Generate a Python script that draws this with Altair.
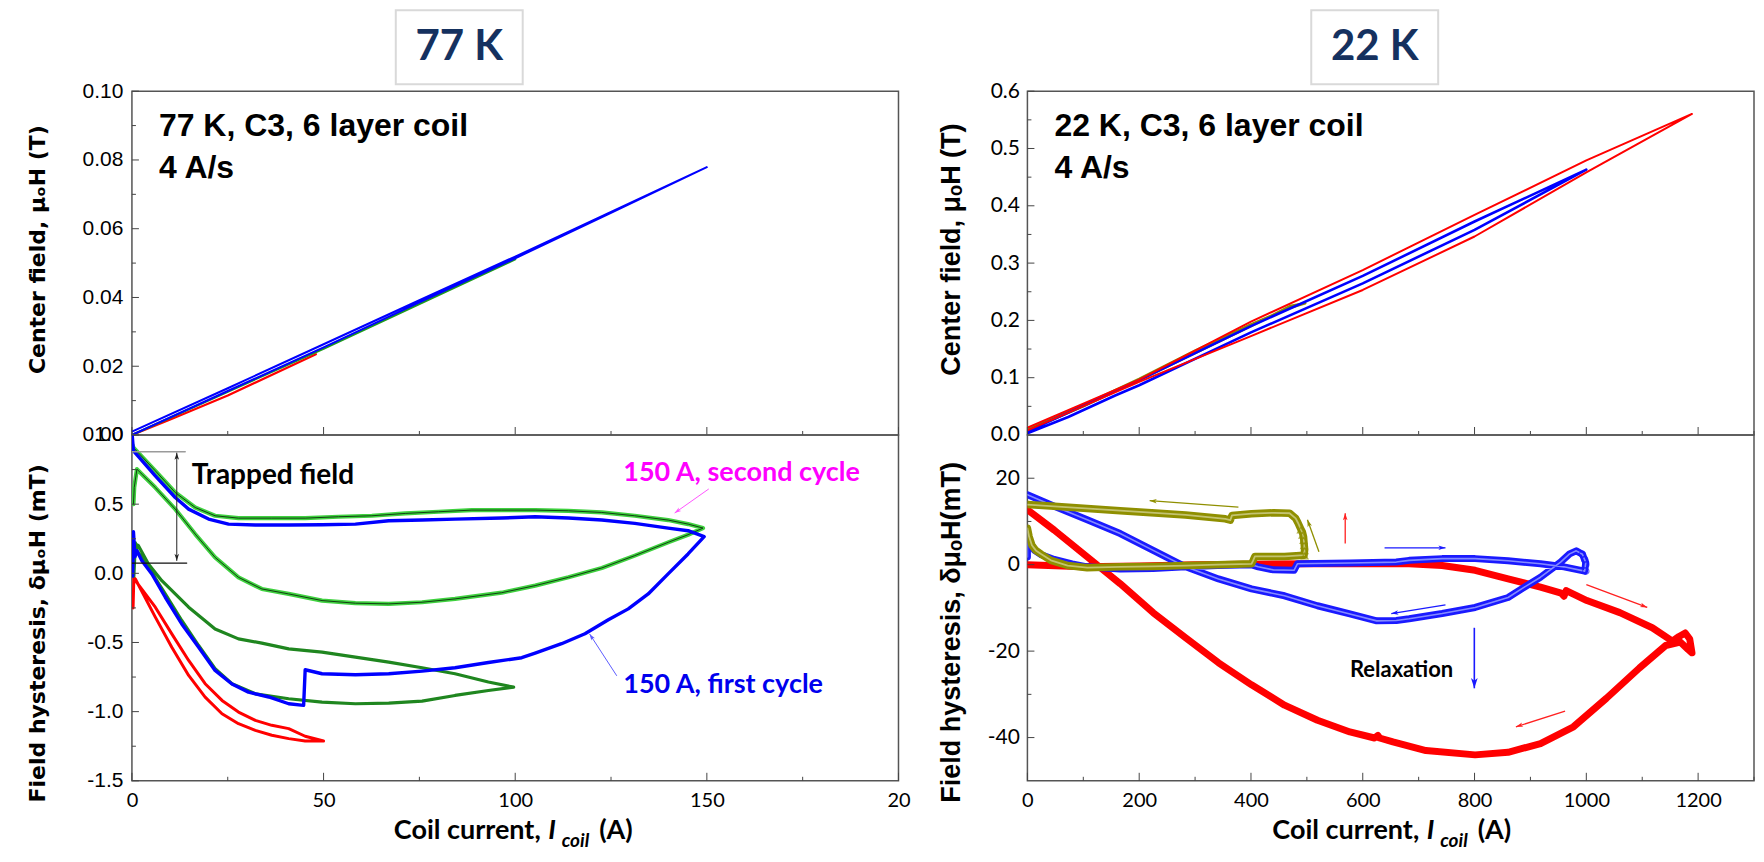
import math
import altair as alt
import pandas as pd

# ======================= DATA =======================
# --- 77 K : centre field (T) vs coil current (A)
C77_RED_I = [0, 10, 25, 48]
C77_RED_B = [0.0, 0.0045, 0.0115, 0.0235]
C77_GREEN_I = [0, 25, 50, 75, 100]
C77_GREEN_B = [0.0, 0.0126, 0.0251, 0.0381, 0.0511]
C77_BLUE_I = [0, 25, 50, 75, 100, 125, 150, 125, 100, 75, 50, 25, 0]
C77_BLUE_B = [0.0, 0.0128, 0.0255, 0.0386, 0.0514, 0.0646, 0.0779, 0.0649, 0.0519, 0.0392, 0.0264, 0.0136, 0.0010]

# --- 77 K : field hysteresis (mT)
H77_RED_I = [0.3, 0.5, 0.9, 6.1, 10.4, 14.8, 19.1, 23.5, 27.8, 32.2, 36.5, 40.9, 45.2, 50.0,
             45.2, 40.9, 36.5, 32.2, 27.8, 23.5, 19.1, 14.8, 10.4, 6.1, 0.9]
H77_RED_V = [-0.25, -0.03, -0.041, -0.317, -0.534, -0.738, -0.895, -1.015, -1.087, -1.135, -1.171, -1.195, -1.212, -1.212,
             -1.178, -1.123, -1.099, -1.063, -1.003, -0.919, -0.798, -0.630, -0.438, -0.245, -0.053]
H77_DGREEN_I = [0.5, 0.9, 1.3, 4.3, 8.7, 13.0, 17.4, 21.7, 26.1, 32.2, 40.9, 49.6, 58.3, 67.0, 75.7, 84.3, 93.0, 99.6,
                93.0, 84.3, 75.7, 67.0, 58.3, 49.6, 40.9, 33.9, 27.8, 21.7, 14.8, 7.8, 4.3, 1.7, 0.9]
H77_DGREEN_V = [-0.02, 0.22, 0.164, 0.043, -0.149, -0.341, -0.522, -0.690, -0.798, -0.871, -0.907, -0.931, -0.943, -0.938,
                -0.924, -0.883, -0.847, -0.823,
                -0.786, -0.726, -0.683, -0.642, -0.606, -0.570, -0.546, -0.505, -0.474, -0.402, -0.245, -0.053, 0.067, 0.200, 0.212]
H77_BLUE_I = [0.2, 0.4, 0.8, 1.3, 2.6, 5.2, 8.7, 13.0, 17.4, 21.7, 26.1, 30.4, 35.7, 40.9, 44.8, 45.2, 49.6, 58.3, 67.0,
              75.7, 84.3, 93.0, 101.7, 105.2, 112.1, 118.2, 124.3, 129.5, 134.7, 139.9, 145.1, 149.3,
              145.1, 139.9, 131.2, 122.6, 113.9, 105.2, 96.5, 84.3, 75.7, 67.0, 58.3, 49.6, 40.9, 32.2, 25.2, 20.0,
              14.8, 11.3, 6.1, 0.4, 0.1]
H77_BLUE_V = [-0.02, 0.30, 0.12, 0.164, 0.091, -0.005, -0.173, -0.366, -0.534, -0.702, -0.800, -0.859, -0.894, -0.943,
              -0.955, -0.697, -0.726, -0.733, -0.726, -0.707, -0.683, -0.645, -0.610, -0.577, -0.509, -0.437, -0.336,
              -0.257, -0.149, -0.004, 0.140, 0.265,
              0.308, 0.327, 0.361, 0.385, 0.400, 0.409, 0.400, 0.392, 0.385, 0.380, 0.356, 0.351, 0.349, 0.349, 0.356,
              0.392, 0.464, 0.548, 0.705, 0.885, 0.990]
H77_LGREEN_I = [0.4, 0.6, 1.3, 2.6, 6.1, 11.3, 16.5, 21.7, 27.8, 33.9, 40.9, 49.6, 58.3, 67.0, 75.7, 84.3, 96.5, 105.2,
                113.9, 122.6, 131.2, 139.9, 145.1, 149.0,
                145.1, 139.9, 131.2, 122.6, 113.9, 105.2, 96.5, 88.7, 80.0, 71.3, 62.6, 53.9, 45.2, 36.5, 27.8, 21.7,
                16.5, 11.3, 6.1, 0.4, 0.1]
H77_LGREEN_V = [0.50, 0.62, 0.753, 0.717, 0.620, 0.464, 0.284, 0.115, -0.029, -0.113, -0.149, -0.197, -0.216, -0.221,
                -0.209, -0.185, -0.140, -0.089, -0.029, 0.039, 0.128, 0.224, 0.279, 0.327,
                0.356, 0.385, 0.416, 0.440, 0.452, 0.457, 0.457, 0.457, 0.445, 0.433, 0.416, 0.409, 0.399, 0.399,
                0.399, 0.416, 0.476, 0.584, 0.741, 0.909, 0.930]

# --- 22 K : centre field (T)
C22_RED_I = [0, 200, 400, 600, 800, 1000, 1189, 1000, 800, 600, 400, 200, 0]
C22_RED_B = [0.0129, 0.0965, 0.1978, 0.2878, 0.3842, 0.4792, 0.5603, 0.4582, 0.3464, 0.2531, 0.1726, 0.0927, 0.0082]
C22_BLUE_I = [0, 200, 400, 600, 800, 1000, 800, 600, 400, 200, 157, 73, 0]
C22_BLUE_B = [0.0064, 0.0957, 0.1901, 0.2776, 0.3726, 0.4630, 0.3580, 0.2647, 0.1790, 0.0869, 0.0690, 0.0314, 0.0030]
C22_OLIVE_I = [0, 100, 200, 300, 400, 470, 497, 470, 400, 300, 200, 100, 0]
C22_OLIVE_B = [0.010, 0.052, 0.098, 0.147, 0.193, 0.222, 0.230, 0.225, 0.190, 0.143, 0.096, 0.050, 0.008]

# --- 22 K : field hysteresis (mT)
H22_RED_I = [0, 100, 200, 300, 400, 500, 625, 683, 742, 801, 860, 918, 955, 960, 964, 1001, 1060, 1118, 1154,
             1166, 1177, 1185, 1189, 1182, 1168, 1142, 1095, 1036, 977, 918, 860, 801, 713, 654, 630, 627, 621,
             577, 519, 460, 401, 342, 283, 225, 166, 107, 48, 0]
H22_RED_V = [0.0, -0.5, -0.3, 0.0, 0.1, 0.2, 0.2, 0.2, -0.2, -1.3, -3.3, -5.2, -6.6, -7.3, -6.0, -8.3, -11.1, -14.6,
             -17.7, -16.6, -15.8, -17.2, -20.4, -19.6, -17.9, -18.7, -23.9, -30.9, -37.5, -41.4, -43.4, -44.0,
             -43.0, -41.0, -40.1, -39.5, -40.1, -38.7, -36.0, -32.5, -27.8, -22.7, -16.9, -11.1, -4.4, 1.8, 8.0, 12.7]
H22_BLUE_I = [0, 0, 4, 12, 25, 48, 80, 107, 166, 225, 283, 340, 400, 413, 440, 477, 483, 577, 660, 683, 742, 801,
              860, 918, 960, 997, 999, 993, 982, 970, 954, 918, 889, 860, 801, 742, 683, 660, 625, 577, 519, 460,
              401, 342, 283, 225, 166, 107, 48, 0]
H22_BLUE_V = [1.8, 7.5, 5.5, 3.4, 2.3, 1.2, 0.2, -0.5, -1.0, -0.9, -0.5, -0.2, 0.0, -0.5, -1.2, -1.3, 0.2, 0.4, 0.6,
              1.0, 1.4, 1.4, 0.9, 0.2, -0.5, -1.5, 0.5, 2.4, 3.2, 2.5, 0.6, -2.9, -5.2, -7.6, -9.9, -11.3, -12.5,
              -12.9, -13.0, -11.4, -9.5, -7.2, -5.6, -3.3, -0.5, 3.3, 7.2, 10.4, 13.5, 16.2]
H22_OLIVE_I = [0, 3, 8, 15, 25, 42, 72, 107, 166, 225, 283, 340, 401, 404, 407, 460, 495, 496, 495, 494, 492, 489,
               484, 480, 469, 440, 401, 366, 363, 354, 283, 166, 48, 0]
H22_OLIVE_V = [8.4, 6.5, 4.5, 3.3, 2.4, 1.0, -0.2, -0.7, -0.5, -0.4, -0.2, 0.0, 0.2, 1.0, 1.9, 1.9, 2.2, 3.5, 5.0,
               6.5, 7.5, 8.3, 9.7, 10.7, 11.9, 12.0, 11.8, 11.4, 10.3, 10.6, 11.5, 12.5, 13.5, 13.9]
H22_OLIVE_TRI_I = [496, 496, 495, 494, 492, 489]
H22_OLIVE_TRI_V = [2.0, 3.2, 4.4, 5.6, 6.8, 8.0]
H22_BLUE_TIP_I = [999, 999, 997, 993]
H22_BLUE_TIP_V = [-1.5, 0.0, 1.2, 2.4]

# --- axis ticks
X77_MAJOR = [0, 50, 100, 150, 200]
X77_MINOR = [25, 75, 125, 175]
Y77T_MAJOR = [0.0, 0.02, 0.04, 0.06, 0.08, 0.10]
Y77T_MINOR = [0.01, 0.03, 0.05, 0.07, 0.09]
Y77B_MAJOR = [-1.5, -1.0, -0.5, 0.0, 0.5, 1.0]
Y77B_MINOR = [-1.25, -0.75, -0.25, 0.25, 0.75]
X22_MAJOR = [0, 200, 400, 600, 800, 1000, 1200]
X22_MINOR = [100, 300, 500, 700, 900, 1100, 1300]
Y22T_MAJOR = [0.0, 0.1, 0.2, 0.3, 0.4, 0.5, 0.6]
Y22T_MINOR = [0.05, 0.15, 0.25, 0.35, 0.45, 0.55]
Y22B_MAJOR = [-40, -20, 0, 20]
Y22B_MINOR = [-30, -10, 10]

# --- annotation arrows (x1, y1, x2, y2) in data units
TRAPPED_ARROW = [(11.7, 0.090, 11.7, 0.872)]
TRAPPED_LINE_TOP = ([0, 13.9], [0.879, 0.879])
TRAPPED_LINE_BOT = ([0, 14.3], [0.074, 0.074])
MAGENTA_ARROW = [(150.5, 0.610, 141.6, 0.436)]
BLUE77_ARROW = [(126.5, -0.741, 119.4, -0.438)]
OLIVE22_ARROWS = [(377.5, 13.3, 218.7, 14.8), (521.6, 3.0, 501.0, 10.4)]
RED22_ARROWS = [(568.6, 4.9, 568.6, 11.9), (1000.0, -4.6, 1109.0, -9.9), (962.0, -33.9, 874.0, -37.5)]
BLUE22_ARROWS = [(639.0, 3.9, 748.0, 3.9), (748.0, -9.3, 651.0, -11.3)]
RELAX_ARROW = [(799.6, -14.6, 799.6, -28.6)]

# ======================= LAYOUT =======================
WL, WR = 767, 727
HT, HB = 344, 346
HEAD = 82
XL, YLT, YLB = (0, 200), (0, 0.10), (-1.5, 1.0)
XR, YRT, YRB = (0, 1300), (0, 0.6), (-50, 30)
MINUS = "replace(datum.label, '\u2212', '-')"
HEAD_PATH = "M0,0L-0.55,1.7L0,1.25L0.55,1.7Z"


def sc(d):
    return alt.Scale(domain=list(d), nice=False, zero=False)


def encs(xd, yd, xax, yax):
    def X():
        return alt.X("x:Q", scale=sc(xd), axis=xax)

    def Y():
        return alt.Y("y:Q", scale=sc(yd), axis=yax)
    return X, Y


def line(X, Y, xs, ys, color, width, opacity=1.0):
    df = pd.DataFrame({"x": xs, "y": ys, "o": list(range(len(xs)))})
    return alt.Chart(df).mark_line(color=color, strokeWidth=width, opacity=opacity, strokeJoin="round",
                                   strokeCap="round", clip=True).encode(x=X(), y=Y(), order="o:Q")


def xticks(X, vals, H, L):
    return alt.Chart(pd.DataFrame({"x": vals})).mark_rule(color="#444", strokeWidth=1).encode(
        x=X(), y=alt.value(H - L), y2=alt.value(H))


def yticks(Y, vals, L):
    return alt.Chart(pd.DataFrame({"y": vals})).mark_rule(color="#444", strokeWidth=1).encode(
        y=Y(), x=alt.value(0), x2=alt.value(L))


def dtext(X, Y, x, y, s, **kw):
    df = pd.DataFrame({"x": [x], "y": [y], "t": [s]})
    return alt.Chart(df).mark_text(**kw).encode(x=X(), y=Y(), text="t:N")


def ptext(px, py, s, **kw):
    return alt.Chart(pd.DataFrame({"t": [s]})).mark_text(**kw).encode(
        x=alt.value(px), y=alt.value(py), text="t:N")


def arrows(X, Y, arr, kx, ky, color, width, size, both=False):
    rows_l, rows_h = [], []
    for k, (x1, y1, x2, y2) in enumerate(arr):
        rows_l += [dict(x=x1, y=y1, o=0, k=k), dict(x=x2, y=y2, o=1, k=k)]
        dx = (x2 - x1) * kx
        dy = -(y2 - y1) * ky
        ang = math.degrees(math.atan2(dx, -dy)) % 360
        rows_h.append(dict(x=x2, y=y2, a=ang))
        if both:
            rows_h.append(dict(x=x1, y=y1, a=(ang + 180) % 360))
    ln = alt.Chart(pd.DataFrame(rows_l)).mark_line(color=color, strokeWidth=width).encode(
        x=X(), y=Y(), detail="k:N", order="o:Q")
    hd = alt.Chart(pd.DataFrame(rows_h)).mark_point(shape=HEAD_PATH, filled=True, color=color, size=size,
                                                   opacity=1).encode(
        x=X(), y=Y(), angle=alt.Angle("a:Q", scale=None))
    return [ln, hd]


def yaxis(values, fmt, font, size, pad, title, tfont, tsize, tx, ty):
    return alt.Axis(values=values, format=fmt, labelExpr=MINUS, labelFont=font, labelFontSize=size,
                    labelColor="black", labelPadding=pad, labelFlush=False, labelOverlap=False, ticks=False,
                    domain=False, grid=False, title=title, titleFont=tfont, titleFontSize=tsize,
                    titleFontWeight="bold", titleColor="black", titleAngle=270, titleAlign="center",
                    titleBaseline="middle", titleX=tx, titleY=ty)


def xaxis(values, expr, size, pad):
    return alt.Axis(values=values, format="d", labelExpr=expr, labelFont="Lato", labelFontSize=size,
                    labelColor="black", labelPadding=pad, labelFlush=False, labelOverlap=False, ticks=False,
                    domain=False, grid=False, title=None)


def header(W, x0, x1, label):
    df = pd.DataFrame({"t": [label]})
    box = alt.Chart(df).mark_rect(fill="white", stroke="#d9d9d9", strokeWidth=2).encode(
        x=alt.value(x0), x2=alt.value(x1), y=alt.value(1), y2=alt.value(75))
    txt = alt.Chart(df).mark_text(font="Lato", fontSize=42, fontWeight="bold", color="#15315f",
                                  align="center", baseline="middle").encode(
        x=alt.value((x0 + x1) / 2), y=alt.value(38), text="t:N")
    return alt.layer(box, txt).properties(width=W, height=HEAD, view=alt.ViewBackground(stroke="transparent"))


def xtitle(x_end, y0, big, small, sub_dy, gap_i, gap_c, gap_a):
    bold = dict(font="Lato", fontWeight="bold", color="black", baseline="alphabetic")
    return [
        ptext(x_end, y0, "Coil current,", align="right", fontSize=big, **bold),
        ptext(x_end + gap_i, y0, "I", align="left", fontSize=big, fontStyle="italic", **bold),
        ptext(x_end + gap_c, y0 + sub_dy, "coil", align="left", fontSize=small, fontStyle="italic", **bold),
        ptext(x_end + gap_a, y0, "(A)", align="left", fontSize=big, **bold),
    ]


# ---------------- 77 K top ----------------
X, Y = encs(XL, YLT, None,
            yaxis(Y77T_MAJOR, ".2f", "Liberation Sans", 21, 9, "Center field, μₒH (T)", "DejaVu Sans", 22, -94, 158))
ann = dict(font="Liberation Sans", fontSize=32, fontWeight="bold", color="black", align="left",
           baseline="alphabetic")
topL = alt.layer(
    line(X, Y, C77_RED_I, C77_RED_B, "#ff0000", 2.2),
    line(X, Y, C77_GREEN_I, C77_GREEN_B, "#1e9a1e", 2.2),
    line(X, Y, C77_BLUE_I, C77_BLUE_B, "#0000ff", 2.0),
    xticks(X, X77_MAJOR, HT, 8), xticks(X, X77_MINOR, HT, 4),
    yticks(Y, Y77T_MAJOR, 7), yticks(Y, Y77T_MINOR, 4),
    ptext(27, 45, "77 K, C3, 6 layer coil", **ann),
    ptext(27, 87, "4 A/s", **ann),
).properties(width=WL, height=HT)

# ---------------- 77 K bottom ----------------
X, Y = encs(XL, YLB, xaxis(X77_MAJOR, "datum.value == 200 ? '20' : datum.label", 20, 10),
            yaxis(Y77B_MAJOR, ".1f", "Liberation Sans", 21, 9, "Field hysteresis, δμₒH (mT)", "DejaVu Sans", 22,
                  -94, 198))
kx, ky = WL / 200.0, HB / 2.5
lab = dict(font="Lato", fontSize=27, fontWeight="bold", align="left", baseline="alphabetic")
botL = alt.layer(
    line(X, Y, H77_RED_I, H77_RED_V, "#ff0000", 3.0),
    line(X, Y, H77_DGREEN_I, H77_DGREEN_V, "#1f861f", 3.2),
    line(X, Y, H77_LGREEN_I, H77_LGREEN_V, "#3fd13f", 4.2),
    line(X, Y, H77_LGREEN_I, H77_LGREEN_V, "#123d12", 1.0),
    line(X, Y, H77_BLUE_I, H77_BLUE_V, "#0000ff", 3.4),
    line(X, Y, TRAPPED_LINE_TOP[0], TRAPPED_LINE_TOP[1], "#9a9a9a", 1.5),
    line(X, Y, TRAPPED_LINE_BOT[0], TRAPPED_LINE_BOT[1], "#111111", 1.2),
    *arrows(X, Y, TRAPPED_ARROW, kx, ky, "#222222", 1.0, 70, both=True),
    *arrows(X, Y, MAGENTA_ARROW, kx, ky, "#ff55ff", 1.0, 60),
    *arrows(X, Y, BLUE77_ARROW, kx, ky, "#5c5cff", 1.0, 60),
    dtext(X, Y, 15.6, 0.646, "Trapped field", color="black", font="Lato", fontSize=28, fontWeight="bold",
          align="left", baseline="alphabetic"),
    dtext(X, Y, 128.2, 0.668, "150 A, second cycle", color="#ff00ff", **lab),
    dtext(X, Y, 128.2, -0.864, "150 A, first cycle", color="#0000ee", **lab),
    xticks(X, X77_MAJOR, HB, 8), xticks(X, X77_MINOR, HB, 4),
    yticks(Y, Y77B_MAJOR, 7), yticks(Y, Y77B_MINOR, 4),
    *xtitle(409, HB + 58, 27, 19, 8, 7.5, 21, 58.5),
    alt.Chart(pd.DataFrame({"t": [0]})).mark_rule(color="white", strokeWidth=1).encode(
        x=alt.value(-122), y=alt.value(0), y2=alt.value(4)),
).properties(width=WL, height=HB)

# ---------------- 22 K top ----------------
X, Y = encs(XR, YRT, None,
            yaxis(Y22T_MAJOR, ".1f", "Lato", 21, 8, "Center field, μₒH (T)", "Liberation Sans", 27, -76, 158))
topR = alt.layer(
    line(X, Y, C22_OLIVE_I, C22_OLIVE_B, "#8c8c00", 2.6),
    line(X, Y, C22_BLUE_I, C22_BLUE_B, "#0000ff", 2.6),
    line(X, Y, C22_RED_I, C22_RED_B, "#ff0000", 2.0),
    xticks(X, X22_MAJOR, HT, 8), xticks(X, X22_MINOR, HT, 4),
    yticks(Y, Y22T_MAJOR, 7), yticks(Y, Y22T_MINOR, 4),
    ptext(27, 45, "22 K, C3, 6 layer coil", **ann),
    ptext(27, 87, "4 A/s", **ann),
).properties(width=WR, height=HT)

# ---------------- 22 K bottom ----------------
X, Y = encs(XR, YRB, xaxis(X22_MAJOR, "datum.label", 20, 10),
            yaxis(Y22B_MAJOR, "d", "Lato", 21, 8, "Field hysteresis, δμₒH(mT)", "Liberation Sans", 27, -76, 197))
kx, ky = WR / 1300.0, HB / 80.0
botR = alt.layer(
    line(X, Y, H22_RED_I, H22_RED_V, "#ff0000", 7.0),
    line(X, Y, H22_BLUE_I, H22_BLUE_V, "#1a1aff", 7.0),
    line(X, Y, H22_BLUE_I, H22_BLUE_V, "#9fa8ff", 1.6, 0.8),
    line(X, Y, H22_OLIVE_I, H22_OLIVE_V, "#8f8f00", 7.5),
    line(X, Y, H22_OLIVE_I, H22_OLIVE_V, "#cfcf8c", 1.8, 0.8),
    alt.Chart(pd.DataFrame({"x": H22_OLIVE_TRI_I, "y": H22_OLIVE_TRI_V})).mark_point(
        shape="triangle-up", filled=False, color="#8f8f00", size=45, strokeWidth=1.2).encode(x=X(), y=Y()),
    alt.Chart(pd.DataFrame({"x": H22_BLUE_TIP_I, "y": H22_BLUE_TIP_V})).mark_point(
        shape="circle", filled=False, color="#1a1aff", size=40, strokeWidth=1.2).encode(x=X(), y=Y()),
    *arrows(X, Y, OLIVE22_ARROWS, kx, ky, "#8f8f00", 1.3, 70),
    *arrows(X, Y, RED22_ARROWS, kx, ky, "#ff2020", 1.3, 70),
    *arrows(X, Y, BLUE22_ARROWS, kx, ky, "#1a1aff", 1.3, 70),
    *arrows(X, Y, RELAX_ARROW, kx, ky, "#1a1aff", 1.6, 150),
    dtext(X, Y, 577, -26.1, "Relaxation", color="black", font="Lato", fontSize=22, fontWeight="bold",
          align="left", baseline="alphabetic"),
    xticks(X, X22_MAJOR, HB, 8), xticks(X, X22_MINOR, HB, 4),
    yticks(Y, Y22B_MAJOR, 7), yticks(Y, Y22B_MINOR, 4),
    *xtitle(392, HB + 58, 27, 19, 8, 7.5, 21, 58.5),
).properties(width=WR, height=HB)

headL = header(WL, 264, 391, "77 K")
headR = header(WR, 284, 411, "22 K")

chart = alt.concat(headL, headR, topL, topR, botL, botR, columns=2,
                   spacing={"row": 0, "column": 129}, bounds="flush", align="each").properties(
    padding=0, background="white").configure_view(stroke="#555555", strokeWidth=1.5)

chart.save("out.html", embed_options={"renderer": "svg", "actions": False})
